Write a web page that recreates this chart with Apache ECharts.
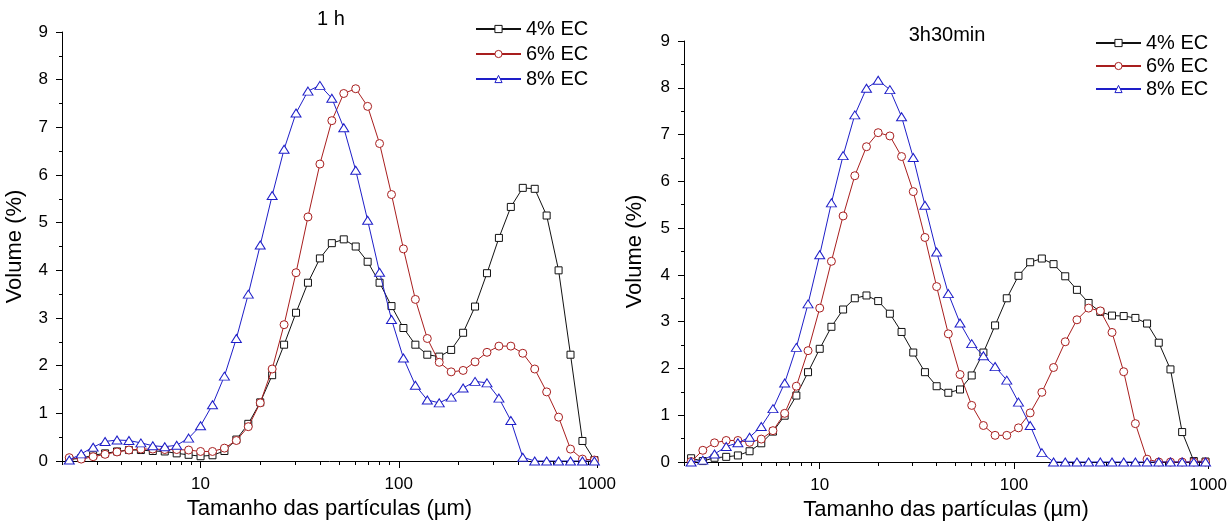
<!DOCTYPE html>
<html><head><meta charset="utf-8">
<script src="https://cdn.jsdelivr.net/npm/echarts@6/dist/echarts.min.js"></script>
<style>html,body{margin:0;padding:0;background:#fff}#c{width:1230px;height:530px}</style>
</head><body><div id="c"></div>
<script>
// particle sizes (µm) — log-spaced channels
const sizes = [2.176, 2.5, 2.872, 3.299, 3.789, 4.353, 5.0, 5.743, 6.598, 7.579, 8.706,
  10.0, 11.487, 13.195, 15.157, 17.411, 20.0, 22.974, 26.39, 30.314, 34.822,
  40.0, 45.948, 52.78, 60.629, 69.644, 80.0, 91.896, 105.56, 121.26, 139.29,
  160.0, 183.79, 211.12, 242.52, 278.58, 320.0, 367.58, 422.24, 485.03, 557.15,
  640.0, 735.17, 844.49, 970.06];

// Panel 1: 1 h
const h1_ec4 = [0.03,0.06,0.12,0.16,0.20,0.23,0.23,0.21,0.20,0.16,0.13,
  0.10,0.12,0.21,0.45,0.78,1.23,1.80,2.44,3.11,3.74,
  4.25,4.57,4.65,4.50,4.18,3.74,3.25,2.79,2.44,2.23,
  2.19,2.33,2.69,3.24,3.94,4.68,5.33,5.73,5.71,5.15,
  4.00,2.23,0.42,0.02];
const h1_ec6 = [0.07,0.04,0.09,0.14,0.19,0.23,0.25,0.25,0.24,0.24,0.23,
  0.20,0.20,0.27,0.43,0.72,1.22,1.93,2.86,3.95,5.12,
  6.23,7.14,7.71,7.81,7.44,6.66,5.59,4.45,3.39,2.57,
  2.07,1.87,1.90,2.08,2.28,2.41,2.41,2.26,1.93,1.45,
  0.92,0.25,0.04,0.02];
const h1_ec8 = [0.02,0.15,0.29,0.41,0.44,0.43,0.38,0.32,0.30,0.33,0.48,
  0.74,1.18,1.78,2.57,3.50,4.53,5.57,6.54,7.30,7.76,
  7.88,7.61,6.99,6.10,5.05,3.96,2.97,2.16,1.59,1.28,
  1.22,1.34,1.53,1.67,1.64,1.32,0.85,0.08,0,0,
  0,0,0,0];

// Panel 2: 3h30min
const h35_ec4 = [0.08,0.02,0.09,0.11,0.14,0.23,0.40,0.65,0.99,1.42,1.92,
  2.42,2.89,3.26,3.50,3.56,3.44,3.17,2.78,2.34,1.92,
  1.62,1.48,1.55,1.85,2.34,2.92,3.50,3.98,4.27,4.35,
  4.23,3.97,3.68,3.40,3.21,3.13,3.12,3.08,2.96,2.55,
  1.98,0.64,0.02,0.01];
const h35_ec6 = [0.01,0.25,0.41,0.46,0.46,0.42,0.49,0.67,1.04,1.62,2.38,
  3.29,4.29,5.26,6.12,6.74,7.04,6.97,6.53,5.78,4.80,
  3.75,2.74,1.87,1.21,0.78,0.57,0.57,0.73,1.05,1.49,
  2.02,2.57,3.04,3.29,3.23,2.77,1.93,0.82,0.06,0,
  0,0,0,0];
const h35_ec8 = [0,0.04,0.17,0.33,0.41,0.53,0.76,1.14,1.69,2.45,3.38,
  4.43,5.54,6.55,7.42,7.99,8.16,7.96,7.38,6.51,5.49,
  4.49,3.60,2.97,2.53,2.27,2.04,1.75,1.28,0.78,0.20,
  0,0,0,0,0,0,0,0,0,0,
  0,0,0,0];

const seriesNames = ['4% EC', '6% EC', '8% EC'];
const panelTitles = ['1 h', '3h30min'];
const xTickLabels = [10, 100, 1000];
const xMinorTicks = [2,3,4,5,6,7,8,9,20,30,40,50,60,70,80,90,200,300,400,500,600,700,800,900];
const xTitle = 'Tamanho das partículas (µm)';
const yTitle = 'Volume (%)';

const FONT = "'Liberation Sans', Arial, sans-serif";
const colors = ['#111111', '#a81e1e', '#1e1ec8'];
const symbols = ['rect', 'circle', 'triangle'];
const symSizes = [[7,7], 8, [10,8]];

const panels = [
  {vals: [h1_ec4, h1_ec6, h1_ec8], grid: {left: 62, top: 32, width: 535, height: 429}, xNameGap: 36, yNameGap: 36,
   title: {x: 331, y: 19}, legend: {left: 470, top: 14, itemGap: 5}},
  {vals: [h35_ec4, h35_ec6, h35_ec8], grid: {left: 684, top: 41, width: 525, height: 421}, xNameGap: 37, yNameGap: 38,
   title: {x: 947, y: 35}, legend: {left: 1090, top: 28, itemGap: 3}}
];

const grids = [], xAxes = [], yAxes = [], series = [], legends = [], graphics = [];
panels.forEach((p, gi) => {
  grids.push(Object.assign({containLabel: false}, p.grid));
  const axisLine = {show: true, onZero: false, lineStyle: {color: '#000', width: 1}};
  xAxes.push({
    type: 'log', logBase: 10, gridIndex: gi, min: 2, max: 1000, position: 'bottom',
    axisLine: axisLine,
    axisTick: {show: true, length: 7, inside: false, customValues: xTickLabels, lineStyle: {color: '#000'}},
    axisLabel: {customValues: xTickLabels, fontSize: 17, color: '#000', fontFamily: FONT, margin: 15,
      formatter: v => String(Math.round(v))},
    splitLine: {show: false}, minorTick: {show: false},
    name: xTitle, nameLocation: 'middle', nameGap: p.xNameGap,
    nameTextStyle: {fontSize: 22, color: '#000', fontFamily: FONT}
  });
  xAxes.push({
    type: 'log', logBase: 10, gridIndex: gi, min: 2, max: 1000, position: 'bottom',
    axisLine: {show: false},
    axisTick: {show: true, length: 4, inside: false, customValues: xMinorTicks, lineStyle: {color: '#000'}},
    axisLabel: {show: false}, splitLine: {show: false}
  });
  yAxes.push({
    type: 'value', gridIndex: gi, min: 0, max: 9, interval: 1,
    axisLine: axisLine,
    axisTick: {show: true, length: 6, inside: false, lineStyle: {color: '#000'}},
    minorTick: {show: true, splitNumber: 2, length: 3, lineStyle: {color: '#000'}},
    axisLabel: {fontSize: 17, color: '#000', fontFamily: FONT, margin: 14},
    splitLine: {show: false},
    name: yTitle, nameLocation: 'middle', nameGap: p.yNameGap, nameRotate: 90,
    nameTextStyle: {fontSize: 22, color: '#000', fontFamily: FONT}
  });
  p.vals.forEach((vals, si) => {
    series.push({
      type: 'line', name: seriesNames[si], xAxisIndex: gi * 2, yAxisIndex: gi,
      data: sizes.map((s, i) => [s, vals[i]]),
      symbol: symbols[si], symbolSize: symSizes[si], showAllSymbol: true,
      lineStyle: {color: colors[si], width: 1},
      itemStyle: {color: '#fff', borderColor: colors[si], borderWidth: 1},
      color: colors[si], z: 2 + si
    });
  });
  legends.push({
    orient: 'vertical', left: p.legend.left, top: p.legend.top, itemGap: p.legend.itemGap,
    itemWidth: 45, itemHeight: 9, data: seriesNames,
    itemStyle: {borderWidth: 1},
    textStyle: {fontSize: 20, color: '#000', fontFamily: FONT}
  });
  graphics.push({
    type: 'text', x: p.title.x, y: p.title.y,
    style: {text: panelTitles[gi], fontSize: 20, fontFamily: FONT, fill: '#000', textAlign: 'center', textVerticalAlign: 'middle'}
  });
});

const chart = echarts.init(document.getElementById('c'), null, {renderer: 'canvas'});
chart.setOption({
  backgroundColor: '#fff', animation: false,
  grid: grids, xAxis: xAxes, yAxis: yAxes, series: series, legend: legends, graphic: graphics
});
</script>
</body></html>
